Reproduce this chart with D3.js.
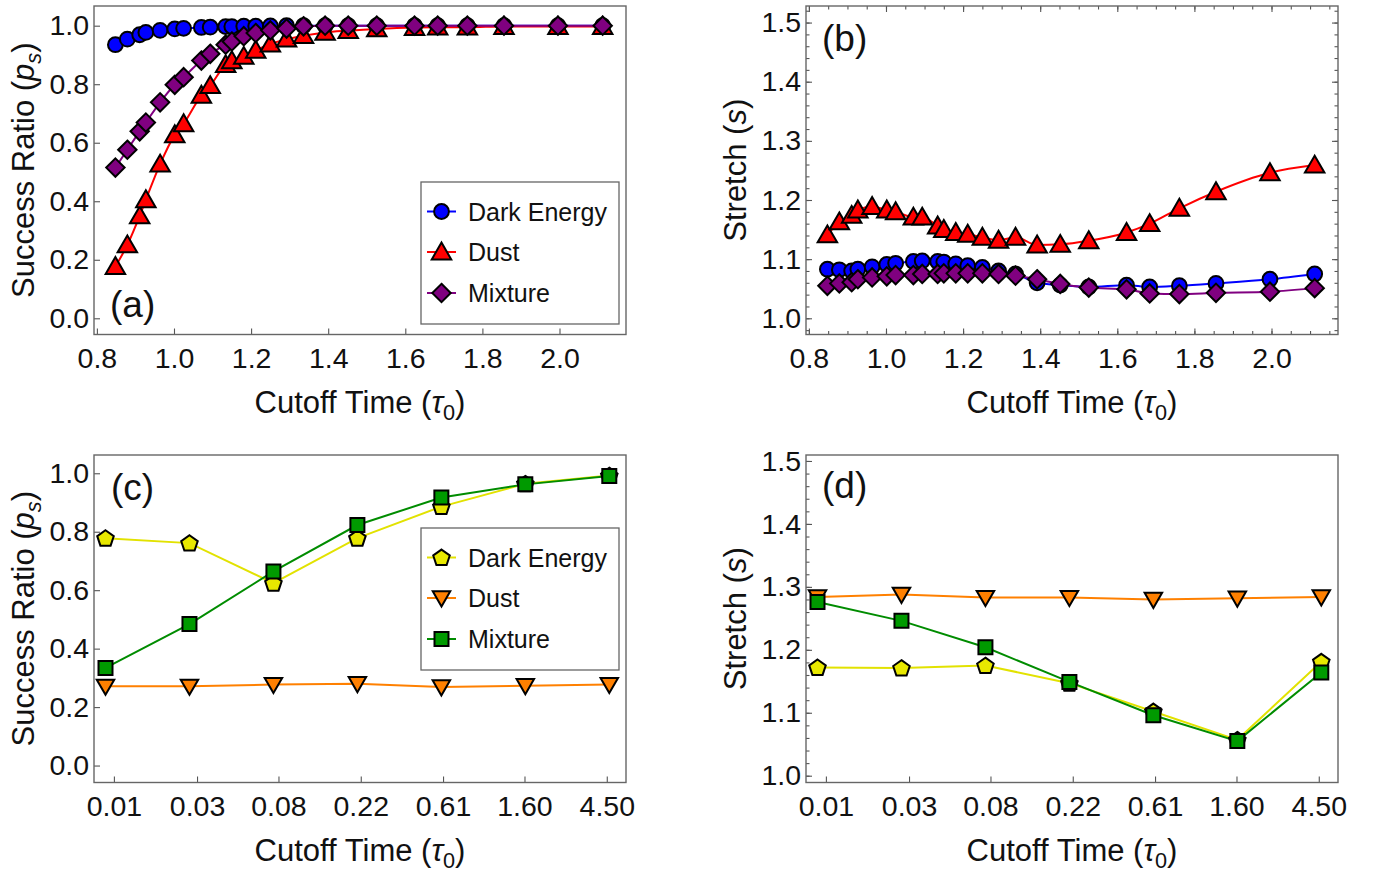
<!DOCTYPE html>
<html><head><meta charset="utf-8">
<script src="https://cdn.jsdelivr.net/npm/d3@7"></script>
<style>
body{margin:0;background:#fff;}
svg{display:block;font-family:"Liberation Sans",Arial,sans-serif;}
</style>
</head><body>
<svg id="chart" width="1380" height="872"></svg>
<script>
// ---------------- DATA ----------------
const seriesNames = ["Dark Energy", "Dust", "Mixture"];

// panels (a),(b): cutoff time values
const tauTop = [0.848,0.879,0.911,0.927,0.964,1.002,1.025,1.071,1.094,1.134,1.150,1.181,1.212,1.250,1.292,1.336,1.392,1.452,1.526,1.624,1.684,1.761,1.856,1.996,2.112];
// (a) success ratio
const ratioDarkEnergyA = [0.935,0.954,0.969,0.977,0.984,0.989,0.991,0.994,0.995,0.997,0.997,0.998,0.998,0.999,1.0,1.0,1.0,1.0,1.0,1.0,1.0,1.0,1.0,1.0,1.0];
const ratioDustA = [0.177,0.251,0.350,0.405,0.527,0.627,0.665,0.762,0.795,0.867,0.880,0.895,0.916,0.937,0.954,0.966,0.977,0.983,0.989,0.994,0.995,0.995,0.997,0.997,0.997];
const ratioMixtureA = [0.515,0.576,0.639,0.669,0.738,0.798,0.824,0.881,0.904,0.935,0.946,0.964,0.975,0.984,0.990,0.998,1.0,1.0,1.0,1.0,1.0,1.0,1.0,1.0,1.0];
// (b) stretch
const stretchDarkEnergyB = [1.083,1.082,1.080,1.083,1.087,1.091,1.093,1.096,1.097,1.096,1.095,1.092,1.089,1.086,1.080,1.075,1.060,1.056,1.053,1.056,1.053,1.055,1.059,1.066,1.075];
const stretchDustB = [1.141,1.163,1.174,1.183,1.189,1.183,1.180,1.171,1.171,1.156,1.150,1.145,1.142,1.137,1.132,1.137,1.124,1.125,1.131,1.145,1.160,1.186,1.214,1.246,1.259];
const stretchMixtureB = [1.055,1.059,1.061,1.066,1.069,1.071,1.073,1.073,1.075,1.075,1.076,1.076,1.076,1.076,1.075,1.072,1.066,1.058,1.052,1.049,1.042,1.041,1.043,1.045,1.051];

// panels (c),(d): categorical cutoff times
const tauCategories = ["0.01","0.03","0.08","0.22","0.61","1.60","4.50"];
const tauIndex = [0,1,2,3,4,5,6];
const tauTickPositions = [0.10,1.09,2.06,3.04,4.02,4.99,5.97];
// (c) success ratio
const ratioDarkEnergyC = [0.778,0.761,0.624,0.778,0.886,0.964,0.992];
const ratioDustC = [0.271,0.271,0.277,0.280,0.269,0.273,0.277];
const ratioMixtureC = [0.334,0.484,0.664,0.823,0.917,0.962,0.991];
// (d) stretch
const stretchDarkEnergyD = [1.172,1.171,1.175,1.147,1.102,1.057,1.181];
const stretchDustD = [1.284,1.288,1.283,1.283,1.280,1.282,1.284];
const stretchMixtureD = [1.276,1.246,1.204,1.149,1.096,1.055,1.164];

// tick values
const tauTicks = [0.8,1.0,1.2,1.4,1.6,1.8,2.0];
const ratioTicks = [0.0,0.2,0.4,0.6,0.8,1.0];
const stretchTicks = [1.0,1.1,1.2,1.3,1.4,1.5];

// ---------------- DRAWING ----------------
const svg = d3.select("#chart");
const TICK_FONT = 28.5, TITLE_FONT = 31, LEGEND_FONT = 25, LABEL_FONT = 37;

const shapePath = {
  circle: r => `M${r},0A${r},${r} 0 1,1 ${-r},0A${r},${r} 0 1,1 ${r},0Z`,
  triUp: s => { const h = s*Math.sqrt(3)/2; return `M0,${-0.56*h}L${s/2},${0.44*h}L${-s/2},${0.44*h}Z`; },
  triDown: s => { const h = s*Math.sqrt(3)/2; return `M0,${0.56*h}L${s/2},${-0.44*h}L${-s/2},${-0.44*h}Z`; },
  diamond: r => `M0,${-r}L${r},0L0,${r}L${-r},0Z`,
  square: s => `M${-s/2},${-s/2}H${s/2}V${s/2}H${-s/2}Z`,
  pentagon: r => { const pts = d3.range(5).map(k => { const a = -Math.PI/2 + k*2*Math.PI/5; return [r*Math.cos(a), r*0.98*Math.sin(a) + 0.6]; }); return "M" + pts.map(p => p.join(",")).join("L") + "Z"; }
};

const styleTop = [
  {line:"#0000ff", fill:"#0000ff", shape:"circle", size:7.4},
  {line:"#ff0000", fill:"#ff0000", shape:"triUp", size:19.5},
  {line:"#800080", fill:"#800080", shape:"diamond", size:9.2}
];
const styleBottom = [
  {line:"#e2e200", fill:"#e8e800", shape:"pentagon", size:8.7},
  {line:"#ff8000", fill:"#ff8000", shape:"triDown", size:17.5},
  {line:"#008c00", fill:"#009a00", shape:"square", size:14}
];

function styleAxis(g, font) {
  g.select(".domain").remove();
  g.selectAll(".tick line").attr("stroke", "#555").attr("stroke-width", 1.1);
  g.selectAll(".tick text").attr("fill", "#111").attr("font-size", font)
    .attr("font-family", '"Liberation Sans",Arial,sans-serif');
  g.attr("font-size", null).attr("font-family", null);
}

function drawPanel(p) {
  const x = d3.scaleLinear().domain(p.xDomain).range([p.left, p.left + p.width]);
  const y = d3.scaleLinear().domain(p.yDomain).range([p.top + p.height, p.top]);
  const g = svg.append("g");
  const bottom = p.top + p.height, right = p.left + p.width;
  const inX = v => v >= p.xDomain[0] && v <= p.xDomain[1];
  const inY = v => v >= p.yDomain[0] && v <= p.yDomain[1];

  // minor ticks
  if (p.xMinor) {
    const xm = p.xMinor.filter(inX);
    g.append("g").attr("transform", `translate(0,${bottom})`)
      .call(d3.axisBottom(x).tickValues(xm).tickSizeInner(-3.5).tickSizeOuter(0).tickFormat(""))
      .call(a => styleAxis(a, TICK_FONT));
    if (p.allSides) g.append("g").attr("transform", `translate(0,${p.top})`)
      .call(d3.axisTop(x).tickValues(xm).tickSizeInner(-3.5).tickSizeOuter(0).tickFormat(""))
      .call(a => styleAxis(a, TICK_FONT));
  }
  if (p.yMinor) {
    const ym = p.yMinor.filter(inY);
    g.append("g").attr("transform", `translate(${p.left},0)`)
      .call(d3.axisLeft(y).tickValues(ym).tickSizeInner(-3.5).tickSizeOuter(0).tickFormat(""))
      .call(a => styleAxis(a, TICK_FONT));
    if (p.allSides) g.append("g").attr("transform", `translate(${right},0)`)
      .call(d3.axisRight(y).tickValues(ym).tickSizeInner(-3.5).tickSizeOuter(0).tickFormat(""))
      .call(a => styleAxis(a, TICK_FONT));
  }
  // major ticks
  g.append("g").attr("transform", `translate(0,${bottom})`)
    .call(d3.axisBottom(x).tickValues(p.xTicks).tickSizeInner(-6).tickSizeOuter(0).tickPadding(13.5).tickFormat(p.xFormat))
    .call(a => styleAxis(a, TICK_FONT));
  g.append("g").attr("transform", `translate(${p.left},0)`)
    .call(d3.axisLeft(y).tickValues(p.yTicks).tickSizeInner(-6).tickSizeOuter(0).tickPadding(5).tickFormat(d3.format(".1f")))
    .call(a => styleAxis(a, TICK_FONT));
  if (p.allSides) {
    g.append("g").attr("transform", `translate(0,${p.top})`)
      .call(d3.axisTop(x).tickValues(p.xTicks).tickSizeInner(-6).tickSizeOuter(0).tickFormat(""))
      .call(a => styleAxis(a, TICK_FONT));
    g.append("g").attr("transform", `translate(${right},0)`)
      .call(d3.axisRight(y).tickValues(p.yTicks).tickSizeInner(-6).tickSizeOuter(0).tickFormat(""))
      .call(a => styleAxis(a, TICK_FONT));
  }

  // frame
  g.append("rect").attr("x", p.left).attr("y", p.top).attr("width", p.width).attr("height", p.height)
    .attr("fill", "none").attr("stroke", "#666").attr("stroke-width", 1.4);

  // lines
  const plot = g.append("g");
  p.series.forEach((s, i) => {
    const st = p.styles[i];
    const pts = s.x.map((v, k) => [v, s.y[k]]);
    plot.append("path").datum(pts)
      .attr("fill", "none").attr("stroke", st.line).attr("stroke-width", 2)
      .attr("d", d3.line().x(d => x(d[0])).y(d => y(d[1])).curve(p.curve));
  });
  // markers
  p.series.forEach((s, i) => {
    const st = p.styles[i];
    const pts = s.x.map((v, k) => [v, s.y[k]]);
    plot.append("g").selectAll("path").data(pts).join("path")
      .attr("transform", d => `translate(${x(d[0])},${y(d[1])})`)
      .attr("d", shapePath[st.shape](st.size))
      .attr("fill", st.fill).attr("stroke", "#000").attr("stroke-width", 2).attr("stroke-linejoin", "miter");
  });

  // panel label
  g.append("text").attr("x", p.left + p.label.dx).attr("y", p.label.baseline)
    .attr("font-size", LABEL_FONT).attr("fill", "#111").text(p.label.text);

  // x title
  const xt = g.append("text").attr("x", p.left + p.width/2).attr("y", bottom + 78)
    .attr("text-anchor", "middle").attr("font-size", TITLE_FONT).attr("fill", "#111");
  xt.append("tspan").text("Cutoff Time (");
  xt.append("tspan").attr("font-style", "italic").text("\u03C4");
  xt.append("tspan").attr("font-size", TITLE_FONT*0.7).attr("dy", 7).text("0");
  xt.append("tspan").attr("dy", -7).text(")");

  // y title
  const yt = g.append("text").attr("transform", `translate(${p.left - 60.5},${p.top + p.height/2}) rotate(-90)`)
    .attr("text-anchor", "middle").attr("font-size", TITLE_FONT).attr("fill", "#111");
  p.yTitle(yt);

  // legend
  if (p.legend) {
    const L = p.legend;
    const lg = g.append("g");
    lg.append("rect").attr("x", L.x).attr("y", L.y).attr("width", 198).attr("height", 142)
      .attr("fill", "#fff").attr("stroke", "#666").attr("stroke-width", 1.3);
    const rows = [29.5, 70, 111];
    seriesNames.forEach((name, i) => {
      const st = p.styles[i];
      const cy = L.y + rows[i];
      lg.append("line").attr("x1", L.x + 6).attr("x2", L.x + 35).attr("y1", cy).attr("y2", cy)
        .attr("stroke", st.line).attr("stroke-width", 2);
      lg.append("path").attr("transform", `translate(${L.x + 20.5},${cy})`)
        .attr("d", shapePath[st.shape](st.size)).attr("fill", st.fill)
        .attr("stroke", "#000").attr("stroke-width", 2);
      lg.append("text").attr("x", L.x + 47).attr("y", cy).attr("dy", "0.36em")
        .attr("font-size", LEGEND_FONT).attr("fill", "#111").text(name);
    });
  }
}

function ratioTitle(t) {
  t.append("tspan").text("Success Ratio (");
  t.append("tspan").attr("font-style", "italic").text("p");
  t.append("tspan").attr("font-style", "italic").attr("font-size", TITLE_FONT*0.7).attr("dy", 7).text("s");
  t.append("tspan").attr("dy", -7).text(")");
}
function stretchTitle(t) {
  t.append("tspan").text("Stretch (");
  t.append("tspan").attr("font-style", "italic").text("s");
  t.append("tspan").text(")");
}

const fmt1 = d3.format(".1f");
const tauMinor = d3.range(16, 44).map(k => k*0.05);
const stretchMinor = d3.range(49, 77).map(k => k*0.02);

drawPanel({
  left: 94, top: 6, width: 532, height: 328.5,
  xDomain: [0.7925, 2.1725], yDomain: [-0.0554, 1.0673],
  xTicks: tauTicks, xFormat: fmt1, yTicks: ratioTicks,
  series: [
    {x: tauTop, y: ratioDarkEnergyA},
    {x: tauTop, y: ratioDustA},
    {x: tauTop, y: ratioMixtureA}
  ],
  styles: styleTop, curve: d3.curveMonotoneX,
  label: {text: "(a)", dx: 16, baseline: 317},
  yTitle: ratioTitle,
  legend: {x: 421, y: 182}
});

drawPanel({
  left: 806, top: 6, width: 532, height: 328.5,
  xDomain: [0.7925, 2.1725], yDomain: [0.9726, 1.528],
  xTicks: tauTicks, xFormat: fmt1, yTicks: stretchTicks,
  xMinor: tauMinor, yMinor: stretchMinor, allSides: true,
  series: [
    {x: tauTop, y: stretchDarkEnergyB},
    {x: tauTop, y: stretchDustB},
    {x: tauTop, y: stretchMixtureB}
  ],
  styles: styleTop, curve: d3.curveMonotoneX,
  label: {text: "(b)", dx: 16, baseline: 51},
  yTitle: stretchTitle,
  legend: null
});

drawPanel({
  left: 94, top: 455, width: 532, height: 327.5,
  xDomain: [-0.137, 6.199], yDomain: [-0.058, 1.0625],
  xTicks: tauTickPositions, xFormat: (d, i) => tauCategories[i], yTicks: ratioTicks,
  series: [
    {x: tauIndex, y: ratioDarkEnergyC},
    {x: tauIndex, y: ratioDustC},
    {x: tauIndex, y: ratioMixtureC}
  ],
  styles: styleBottom, curve: d3.curveLinear,
  label: {text: "(c)", dx: 17, baseline: 500},
  yTitle: ratioTitle,
  legend: {x: 421, y: 528}
});

drawPanel({
  left: 806, top: 455, width: 532, height: 327.5,
  xDomain: [-0.137, 6.199], yDomain: [0.9892, 1.5095],
  xTicks: tauTickPositions, xFormat: (d, i) => tauCategories[i], yTicks: stretchTicks,
  yMinor: stretchMinor,
  series: [
    {x: tauIndex, y: stretchDarkEnergyD},
    {x: tauIndex, y: stretchDustD},
    {x: tauIndex, y: stretchMixtureD}
  ],
  styles: styleBottom, curve: d3.curveLinear,
  label: {text: "(d)", dx: 16, baseline: 498},
  yTitle: stretchTitle,
  legend: null
});
</script>
</body></html>
